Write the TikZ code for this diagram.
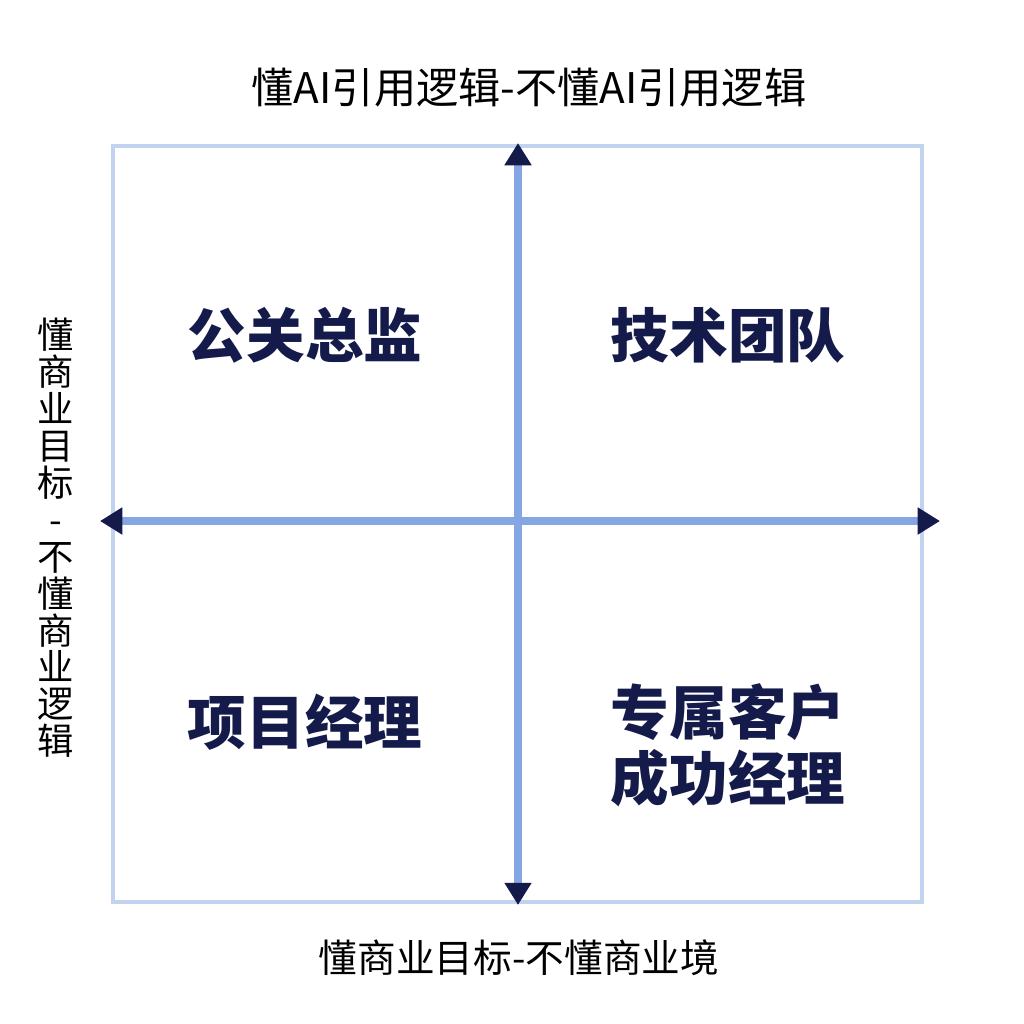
\documentclass[tikz,border=0pt]{standalone}
\usepackage{fontspec}
\newfontfamily\cjk{Noto Sans CJK SC}
\usetikzlibrary{arrows.meta}
\definecolor{frameblue}{HTML}{C2D3F0}
\definecolor{axisblue}{HTML}{86A6E3}
\definecolor{navy}{HTML}{141A4A}
\tikzset{
  axis/.style={line width=6pt,axisblue,{Triangle[length=19pt,width=22pt,color=navy]}-{Triangle[length=19pt,width=22pt,color=navy]}},
  quad/.style={font=\cjk\bfseries\fontsize{50}{56}\selectfont,text=navy,align=center},
  title/.style={font=\cjk\fontsize{29}{34}\selectfont,text=black}
}
\begin{document}
\begin{tikzpicture}[x=0.03cm,y=-0.03cm]
\useasboundingbox (0,0) rectangle (1024,1024);
\draw[frameblue,line width=3pt] (113,146) rectangle (922,902);

\coordinate (top) at (518,143);
\coordinate (bot) at (518,905);
\coordinate (lft) at (100,521);
\coordinate (rgt) at (940,521);
\draw[axis] (bot) -- (top);
\draw[axis] (lft) -- (rgt);

\node[title,font=\cjk\fontsize{36}{40}\selectfont] (xlab) at (529,88) {懂AI引用逻辑-不懂AI引用逻辑};
\node[title,font=\cjk\fontsize{33}{38}\selectfont] (blab) at (519,958) {懂商业目标-不懂商业境};
\node[title,align=center,font=\cjk\fontsize{31}{31.5}\selectfont] (ylab) at (56,538)
  {懂\\商\\业\\目\\标\\-\\不\\懂\\商\\业\\逻\\辑};

\node[quad] (pr) at (305,335) {公关总监};
\node[quad] (tech) at (728,335) {技术团队};
\node[quad] (pm) at (305,722) {项目经理};
\node[quad] (csm) at (728,745) {专属客户\\成功经理};
\end{tikzpicture}
\end{document}
